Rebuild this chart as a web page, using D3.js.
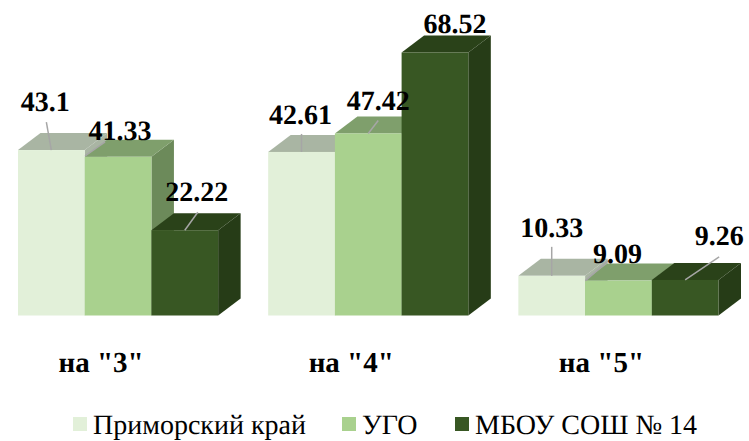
<!DOCTYPE html>
<html>
<head>
<meta charset="utf-8">
<script src="https://cdnjs.cloudflare.com/ajax/libs/d3/7.8.5/d3.min.js"></script>
<style>
  html, body { margin: 0; padding: 0; background: #fff; }
  svg { display: block; }
  text { font-family: "Liberation Serif", serif; fill: #000; text-rendering: geometricPrecision; }
</style>
</head>
<body>
<svg width="749" height="441"></svg>
<script>
const categories = ['на "3"', 'на "4"', 'на "5"'];
const seriesNames = ['Приморский край', 'УГО', 'МБОУ СОШ № 14'];
const seriesValues = [
  [43.1, 42.61, 10.33],
  [41.33, 47.42, 9.09],
  [22.22, 68.52, 9.26]
];

const frontColors = ['#e2f0d9', '#a9d18e', '#385723'];
const topColors = ['#a9b5a3', '#7f9f6c', '#2a4219'];
const sideColors = ['#a9b5a3', '#6c8a5a', '#263c17'];

// 3d depth of the bars
const depthX = 22.5;
const depthY = -17;

// label centre and leader ends, relative to the middle of the bar's front top edge
// [labelDx, labelDy, leaderX1, leaderY1, leaderX2, leaderY2]
const labelLayout = [
  [[-6, -39, -5, -28, 0, 0], [2, -17, -13, -15, -33, -1], [12, -29, 13, -18, 0, 0]],
  [[-1, -28, 0, -18, 0, 0], [10, -23, 10, -13, 0, 0], [20, -20, null]],
  [[0, -39, 0, -29, 0, 0], [-1, -18, -10, -20, -33, 0], [34, -35, 34, -23, 0, 0]]
];

const svg = d3.select('svg');

const x0 = d3.scaleBand()
  .domain(categories)
  .range([18, 718.5])
  .paddingInner(0.2);

const x1 = d3.scaleBand()
  .domain(d3.range(seriesNames.length))
  .range([0, x0.bandwidth()]);

const y = d3.scaleLinear()
  .domain([0, 68.52])
  .range([315.5, 52.5]);

const polygon = (pts) => pts.map((p) => p.join(',')).join(' ');

const bars = [];
categories.forEach((cat, c) => {
  seriesNames.forEach((name, s) => {
    bars.push({
      cat, c, s,
      value: seriesValues[s][c],
      left: x0(cat) + x1(s),
      right: x0(cat) + x1(s) + x1.bandwidth(),
      top: y(seriesValues[s][c]),
      base: y(0)
    });
  });
});

const barG = svg.append('g').selectAll('g')
  .data(bars)
  .join('g');

barG.append('polygon')
  .attr('fill', (d) => sideColors[d.s])
  .attr('points', (d) => polygon([
    [d.right, d.top], [d.right + depthX, d.top + depthY],
    [d.right + depthX, d.base + depthY], [d.right, d.base]
  ]));

barG.append('polygon')
  .attr('fill', (d) => topColors[d.s])
  .attr('points', (d) => polygon([
    [d.left, d.top], [d.left + depthX, d.top + depthY],
    [d.right + depthX, d.top + depthY], [d.right, d.top]
  ]));

barG.append('rect')
  .attr('fill', (d) => frontColors[d.s])
  .attr('x', (d) => d.left)
  .attr('y', (d) => d.top)
  .attr('width', (d) => d.right - d.left)
  .attr('height', (d) => d.base - d.top);

// leader lines
svg.append('g').selectAll('line')
  .data(bars.filter((d) => labelLayout[d.c][d.s][2] !== null))
  .join('line')
  .attr('stroke', '#a6a6a6')
  .attr('stroke-width', 1.5)
  .attr('x1', (d) => (d.left + d.right) / 2 + labelLayout[d.c][d.s][2])
  .attr('y1', (d) => d.top + labelLayout[d.c][d.s][3])
  .attr('x2', (d) => (d.left + d.right) / 2 + labelLayout[d.c][d.s][4])
  .attr('y2', (d) => d.top + labelLayout[d.c][d.s][5]);

// value labels
svg.append('g').selectAll('text')
  .data(bars)
  .join('text')
  .attr('text-anchor', 'middle')
  .attr('font-size', 28)
  .attr('font-weight', 'bold')
  .attr('x', (d) => (d.left + d.right) / 2 + labelLayout[d.c][d.s][0])
  .attr('y', (d) => d.top + labelLayout[d.c][d.s][1])
  .text((d) => d.value);

// category labels
svg.append('g').selectAll('text')
  .data(categories)
  .join('text')
  .attr('text-anchor', 'middle')
  .attr('font-size', 29)
  .attr('font-weight', 'bold')
  .attr('x', (d) => x0(d) + x0.bandwidth() / 2 - 17)
  .attr('y', 372)
  .text((d) => d);

// legend
const legendX = [73, 342, 455];
const legend = svg.append('g').selectAll('g')
  .data(seriesNames)
  .join('g')
  .attr('transform', (d, i) => `translate(${legendX[i]},417)`);

legend.append('rect')
  .attr('width', 14)
  .attr('height', 14)
  .attr('fill', (d, i) => frontColors[i]);

legend.append('text')
  .attr('x', 20)
  .attr('y', 17)
  .attr('font-size', 28)
  .text((d) => d);
</script>
</body>
</html>
